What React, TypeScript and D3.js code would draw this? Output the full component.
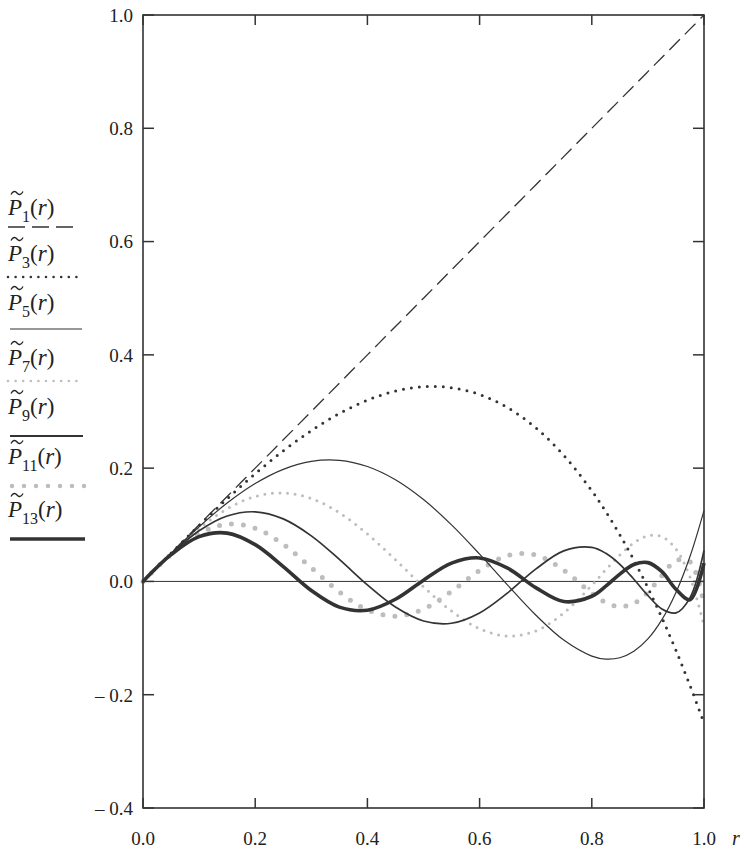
import React from "react";
import * as d3 from "d3";

// sample positions r
const rValues = [0, 0.05, 0.1, 0.15, 0.2, 0.25, 0.3, 0.35, 0.4, 0.45, 0.5, 0.55, 0.6, 0.65, 0.7, 0.75, 0.8, 0.825, 0.85, 0.875, 0.9, 0.925, 0.95, 0.975, 1.0];

const p1 = [0, 0.05, 0.1, 0.15, 0.2, 0.25, 0.3, 0.35, 0.4, 0.45, 0.5, 0.55, 0.6, 0.65, 0.7, 0.75, 0.8, 0.825, 0.85, 0.875, 0.9, 0.925, 0.95, 0.975, 1.0];
const p3 = [0, 0.0498, 0.0988, 0.1458, 0.19, 0.2305, 0.2663, 0.2964, 0.32, 0.3361, 0.3438, 0.342, 0.33, 0.3067, 0.2713, 0.2227, 0.16, 0.1231, 0.0823, 0.0376, -0.0113, -0.0643, -0.1217, -0.1836, -0.25];
const p5 = [0, 0.0496, 0.0965, 0.1384, 0.1728, 0.1979, 0.2119, 0.2137, 0.2029, 0.1795, 0.1445, 0.0998, 0.0481, -0.0066, -0.0593, -0.1036, -0.1318, -0.1371, -0.1347, -0.1233, -0.1015, -0.0675, -0.0196, 0.0439, 0.125];
const p7 = [0, 0.0492, 0.0934, 0.1281, 0.1499, 0.1562, 0.1464, 0.1213, 0.0837, 0.0382, -0.0094, -0.0523, -0.0834, -0.0965, -0.0874, -0.0558, -0.0067, 0.0206, 0.0466, 0.068, 0.0805, 0.079, 0.0572, 0.0078, -0.0781];
const p9 = [0, 0.0486, 0.0894, 0.1155, 0.1229, 0.1104, 0.0805, 0.0389, -0.0062, -0.0453, -0.0698, -0.0738, -0.0556, -0.0202, 0.0217, 0.054, 0.06, 0.0496, 0.0302, 0.0039, -0.0249, -0.0486, -0.0556, -0.0289, 0.0547];
const p11 = [0, 0.048, 0.0845, 0.101, 0.0939, 0.0655, 0.0241, -0.0187, -0.0503, -0.0613, -0.0487, -0.0176, 0.0194, 0.0456, 0.0467, 0.0197, -0.0211, -0.0373, -0.0444, -0.0387, -0.0191, 0.0103, 0.0369, 0.0349, -0.041];
const p13 = [0, 0.0472, 0.079, 0.0853, 0.0649, 0.0262, -0.016, -0.0454, -0.0509, -0.0315, 0.0022, 0.0323, 0.0415, 0.0234, -0.0109, -0.0355, -0.0262, -0.0083, 0.013, 0.0298, 0.0332, 0.0172, -0.0139, -0.0324, 0.0322];

const seriesSubscripts = ["1", "3", "5", "7", "9", "11", "13"];

const xTicks = [0, 0.2, 0.4, 0.6, 0.8, 1.0];
const xTickLabels = ["0.0", "0.2", "0.4", "0.6", "0.8", "1.0"];
const yTicks = [-0.4, -0.2, 0, 0.2, 0.4, 0.6, 0.8, 1.0];
const yTickLabels = ["\u2013 0.4", "\u2013 0.2", "0.0", "0.2", "0.4", "0.6", "0.8", "1.0"];

const DARK = "#333";
const LIGHT = "#bdbdbd";
const FONT = "Liberation Serif, Times New Roman, serif";

type Style = { stroke: string; width: number; dash?: string; cap?: "round" | "butt" };

const styles: Style[] = [
  { stroke: DARK, width: 1.3, dash: "15 7", cap: "butt" },
  { stroke: DARK, width: 3, dash: "0 8", cap: "round" },
  { stroke: DARK, width: 1.2 },
  { stroke: LIGHT, width: 3, dash: "0 7.6", cap: "round" },
  { stroke: DARK, width: 1.7 },
  { stroke: LIGHT, width: 5, dash: "0 12", cap: "round" },
  { stroke: DARK, width: 3.6 },
];

const legendStyles: Style[] = [
  { stroke: DARK, width: 1.3, dash: "17 7", cap: "butt" },
  { stroke: DARK, width: 2.6, dash: "0 7.6", cap: "round" },
  { stroke: DARK, width: 1.2 },
  { stroke: LIGHT, width: 2.6, dash: "0 7.6", cap: "round" },
  { stroke: DARK, width: 1.8 },
  { stroke: LIGHT, width: 4.5, dash: "0 12", cap: "round" },
  { stroke: DARK, width: 3.6 },
];

const legendTextY = [215, 261, 310, 365, 414, 464, 517];
const legendLineY = [227, 277, 329, 381, 436, 486, 539];
const legendLineX = [[8, 76], [8, 78], [10, 82], [8, 78], [10, 83], [12, 85], [10, 85]];

export default function App() {
  const W = 747;
  const H = 850;
  const x = d3.scaleLinear().domain([0, 1]).range([143, 704]);
  const y = d3.scaleLinear().domain([-0.4, 1.0]).range([808, 15]);

  const series = [p1, p3, p5, p7, p9, p11, p13];
  const line = d3
    .line<number>()
    .x((_, i) => x(rValues[i]))
    .y((d) => y(d))
    .curve(d3.curveCatmullRom.alpha(0.5));

  const drawOrder = [5, 3, 0, 1, 2, 4, 6];

  const tilde = (x0: number, yc: number) =>
    `M${x0},${yc + 1.5} C${x0 + 2},${yc - 2.5} ${x0 + 4.5},${yc - 2} ${x0 + 6},${yc} S${x0 + 10},${yc + 2.5} ${x0 + 12},${yc - 1.5}`;

  return (
    <svg width={W} height={H} style={{ position: "absolute", left: 0, top: 0, background: "#fff" }}>
      <rect x={0} y={0} width={W} height={H} fill="#fff" />
      {/* zero line */}
      <line x1={x(0)} x2={x(1)} y1={y(0)} y2={y(0)} stroke={DARK} strokeWidth={1} />

      {/* curves */}
      {drawOrder.map((k) => {
        const s = styles[k];
        return (
          <path
            key={k}
            d={line(series[k]) || ""}
            fill="none"
            stroke={s.stroke}
            strokeWidth={s.width}
            strokeDasharray={s.dash}
            strokeLinecap={s.cap || "butt"}
            strokeLinejoin="round"
          />
        );
      })}

      {/* frame */}
      <rect
        x={x(0)}
        y={y(1)}
        width={x(1) - x(0)}
        height={y(-0.4) - y(1)}
        fill="none"
        stroke={DARK}
        strokeWidth={1.6}
      />

      {/* ticks */}
      {yTicks.map((t) => (
        <g key={"yt" + t}>
          <line x1={x(0)} x2={x(0) + 11} y1={y(t)} y2={y(t)} stroke={DARK} strokeWidth={1.5} />
          <line x1={x(1)} x2={x(1) - 11} y1={y(t)} y2={y(t)} stroke={DARK} strokeWidth={1.5} />
        </g>
      ))}
      {xTicks.map((t) => (
        <g key={"xt" + t}>
          <line x1={x(t)} x2={x(t)} y1={y(-0.4)} y2={y(-0.4) - 10} stroke={DARK} strokeWidth={1.5} />
          <line x1={x(t)} x2={x(t)} y1={y(1)} y2={y(1) + 10} stroke={DARK} strokeWidth={1.5} />
        </g>
      ))}

      {/* tick labels */}
      {yTicks.map((t, i) => (
        <text
          key={"yl" + t}
          x={133}
          y={y(t)}
          dy="0.36em"
          textAnchor="end"
          fontSize={19}
          fontFamily={FONT}
          fill="#222"
        >
          {yTickLabels[i]}
        </text>
      ))}
      {xTicks.map((t, i) => (
        <text key={"xl" + t} x={x(t)} y={845} textAnchor="middle" fontSize={19} fontFamily={FONT} fill="#222">
          {xTickLabels[i]}
        </text>
      ))}
      <text x={732} y={845} fontSize={20} fontStyle="italic" fontFamily={FONT} fill="#222">
        r
      </text>

      {/* legend */}
      {seriesSubscripts.map((sub, i) => {
        const s = legendStyles[i];
        const ty = legendTextY[i];
        return (
          <g key={"lg" + i}>
            <path d={tilde(11, ty - 22)} fill="none" stroke="#222" strokeWidth={1.3} />
            <text x={8} y={ty} fontSize={23} fontFamily={FONT} fill="#222">
              <tspan fontStyle="italic">P</tspan>
              <tspan fontSize={16} dy={7}>
                {sub}
              </tspan>
              <tspan dy={-7}>(</tspan>
              <tspan fontStyle="italic">r</tspan>
              <tspan>)</tspan>
            </text>
            <line
              x1={legendLineX[i][0]}
              x2={legendLineX[i][1]}
              y1={legendLineY[i]}
              y2={legendLineY[i]}
              stroke={s.stroke}
              strokeWidth={s.width}
              strokeDasharray={s.dash}
              strokeLinecap={s.cap || "butt"}
            />
          </g>
        );
      })}
    </svg>
  );
}
